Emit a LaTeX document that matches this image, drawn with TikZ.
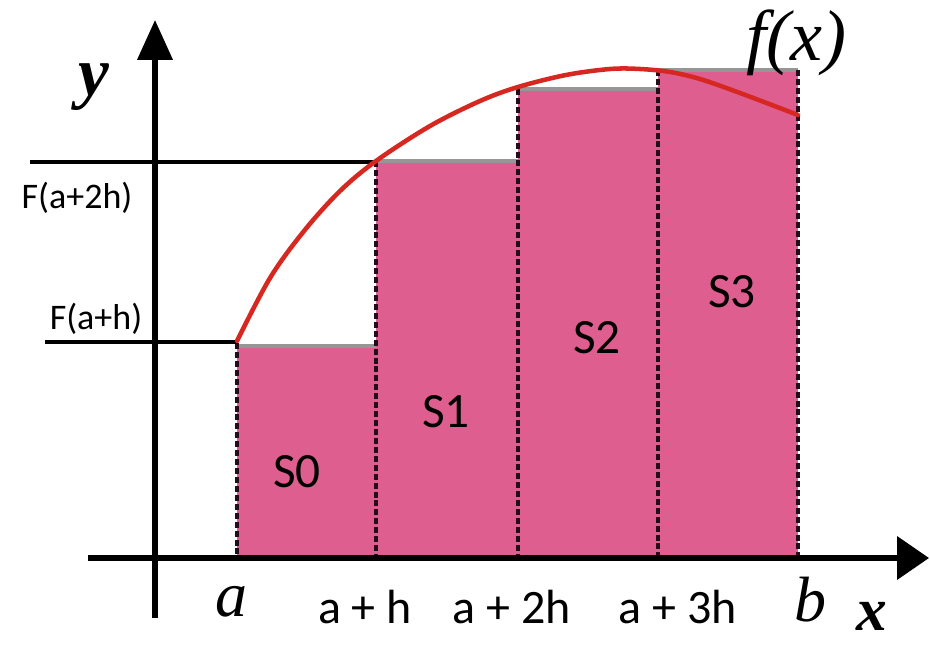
\documentclass[tikz,border=0pt]{standalone}
\usepackage{fontspec}
\setmainfont{Liberation Serif}
\newfontfamily\calfont{Carlito}
\usetikzlibrary{arrows.meta}
\definecolor{rectpink}{RGB}{222,94,143}
\definecolor{curvered}{RGB}{214,40,32}
\definecolor{topgray}{RGB}{150,150,150}
\definecolor{dashdark}{RGB}{35,12,28}
\tikzset{
  barfill/.style={fill=rectpink, draw=none},
  bartop/.style={draw=topgray, line width=3pt},
  divider/.style={draw=dashdark, line width=2.3pt, dash pattern=on 4.5pt off 2.2pt},
  axisline/.style={draw=black, line width=3.9pt},
  levelline/.style={draw=black, line width=3.5pt},
  funccurve/.style={draw=curvered, line width=3.4pt, line cap=round},
  slabel/.style={font=\calfont\fontsize{37pt}{42pt}\selectfont, inner sep=0pt},
  tlabel/.style={font=\calfont\fontsize{36pt}{42pt}\selectfont, inner sep=0pt},
  flabel/.style={font=\calfont\fontsize{27pt}{32pt}\selectfont, inner sep=0pt},
  mlabel/.style={font=\itshape\fontsize{48pt}{54pt}\selectfont, inner sep=0pt},
  blabel/.style={font=\bfseries\itshape\fontsize{46pt}{52pt}\selectfont, inner sep=0pt}
}
\begin{document}
\begin{tikzpicture}[x=0.75pt,y=-0.75pt]
\useasboundingbox (0,0) rectangle (930,645);

% rectangles
\fill[barfill] (237,345) rectangle (376,558);
\fill[barfill] (376,161) rectangle (518,558);
\fill[barfill] (518,89) rectangle (658,558);
\fill[barfill] (658,70) rectangle (798,558);

% gray tops
\draw[bartop] (237,346) -- (376,346);
\draw[bartop] (376,161) -- (518,161);
\draw[bartop] (518,89) -- (658,89);
\draw[bartop] (658,70) -- (798,70);

% dashed dividers
\coordinate (d0t) at (237,343); \coordinate (d0b) at (237,556);
\coordinate (d1t) at (376,161); \coordinate (d1b) at (376,556);
\coordinate (d2t) at (518,89);  \coordinate (d2b) at (518,556);
\coordinate (d3t) at (658,70);  \coordinate (d3b) at (658,556);
\coordinate (d4t) at (798,70);  \coordinate (d4b) at (798,556);
\draw[divider] (d0t) -- (d0b);
\draw[divider] (d1t) -- (d1b);
\draw[divider] (d2t) -- (d2b);
\draw[divider] (d3t) -- (d3b);
\draw[divider] (d4t) -- (d4b);

% axes
\coordinate (yaxb) at (155,618);
\coordinate (yaxt) at (155,20);
\coordinate (xaxl) at (88,558);
\coordinate (xaxr) at (929,558);
\draw[axisline, -{Triangle[length=30pt,width=26pt]}] (yaxb) -- (yaxt);
\draw[axisline, -{Triangle[length=24pt,width=32pt]}] (xaxl) -- (xaxr);

% level lines
\coordinate (l2a) at (30,162); \coordinate (l2b) at (376,162);
\coordinate (l1a) at (45,342); \coordinate (l1b) at (238,342);
\draw[levelline] (l2a) -- (l2b);
\draw[levelline] (l1a) -- (l1b);

% curve
\draw[funccurve] plot[smooth, tension=0.55] coordinates {
 (237,341) (270,278) (304,231) (340,191) (376,161) (430,126) (480,101)
 (518,87) (566,75) (610,69) (640,69) (670,72) (700,79) (740,93) (798,115)};

% labels
\node[slabel] (s0) at (297,472) {S0};
\node[slabel] (s1) at (446,412) {S1};
\node[slabel] (s2) at (597,338) {S2};
\node[slabel] (s3) at (732,292) {S3};

\node[tlabel] (tah) at (365,607) {a + h};
\node[tlabel] (ta2h) at (512,607) {a + 2h};
\node[tlabel] (ta3h) at (678,607) {a + 3h};

\node[flabel] (f2) at (77,198) {F(a+2h)};
\node[flabel] (f1) at (96,319) {F(a+h)};

\node[mlabel] (la) at (231,602) {a};
\node[mlabel] (lb) at (810,600) {b};
\node[mlabel, font=\itshape\fontsize{54pt}{60pt}\selectfont] (lf) at (796,43) {f(x)};
\node[blabel] (lx) at (872,616) {x};
\node[blabel, font=\bfseries\itshape\fontsize{52pt}{58pt}\selectfont] (ly) at (94,87) {y};
\end{tikzpicture}
\end{document}
